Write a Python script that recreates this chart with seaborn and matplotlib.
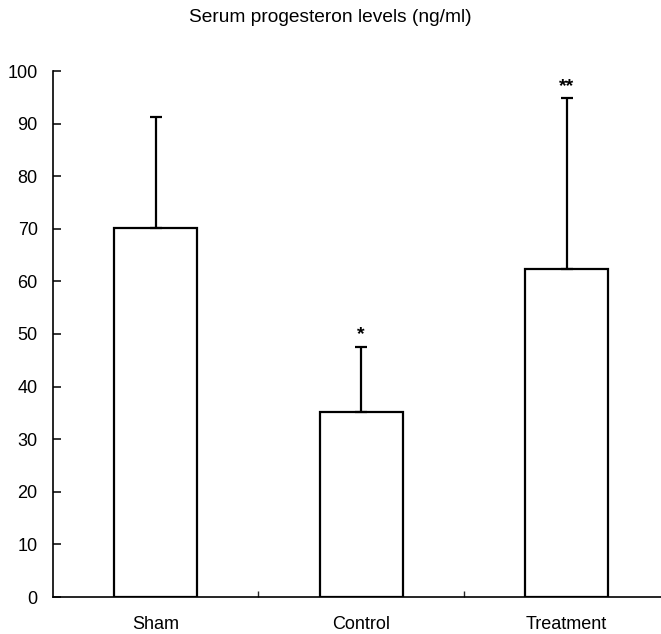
import matplotlib
matplotlib.use("Agg")
import matplotlib.pyplot as plt
import seaborn as sns
import pandas as pd

groups = ["Sham", "Control", "Treatment"]
means = [70.1, 35.2, 62.3]
sd_upper = [21.2, 12.4, 32.5]
markers = ["", "*", "**"]
y_ticks = [0, 10, 20, 30, 40, 50, 60, 70, 80, 90, 100]

sns.set_theme(style="white")
plt.rcParams["font.family"] = ["Liberation Sans", "DejaVu Sans"]

df = pd.DataFrame({"group": groups, "mean": means})

fig = plt.figure(figsize=(6.61, 6.34), dpi=100)
ax = fig.add_axes([53 / 661, 37 / 634, (661 - 53) / 661, 526 / 634])

sns.barplot(data=df, x="group", y="mean", order=groups, color="white",
            edgecolor="black", linewidth=1.6, width=0.405, errorbar=None, ax=ax)

xs = range(len(groups))
ax.errorbar(list(xs), means, yerr=[[0] * len(means), sd_upper], fmt="none",
            ecolor="black", elinewidth=1.6, capsize=4, capthick=1.6)

for x, m, s, lab in zip(xs, means, sd_upper, markers):
    if lab:
        ax.text(x, m + s + 0.6, lab, ha="center", va="bottom", fontsize=14,
                fontweight="bold", color="black")

ax.set_xlim(-0.5, 2.46)
ax.set_ylim(0, 100)
ax.set_yticks(y_ticks)
ax.set_xticks([0.5, 1.5], minor=True)
ax.tick_params(axis="y", direction="in", length=6, width=1.1, labelsize=13,
               left=True, pad=11, colors="black")
ax.tick_params(axis="x", which="major", length=0, labelsize=13, pad=14, colors="black")
ax.tick_params(axis="x", which="minor", direction="in", length=4, width=1, bottom=True)
ax.set_xlabel("")
ax.set_ylabel("")

for side in ["top", "right"]:
    ax.spines[side].set_visible(False)
for side in ["left", "bottom"]:
    ax.spines[side].set_color("black")
    ax.spines[side].set_linewidth(1.2)

fig.text(0.5, 1 - 18 / 634, "Serum progesteron levels (ng/ml)", ha="center",
         va="center", fontsize=13.8, color="black")

fig.savefig("out.png", dpi=100)
